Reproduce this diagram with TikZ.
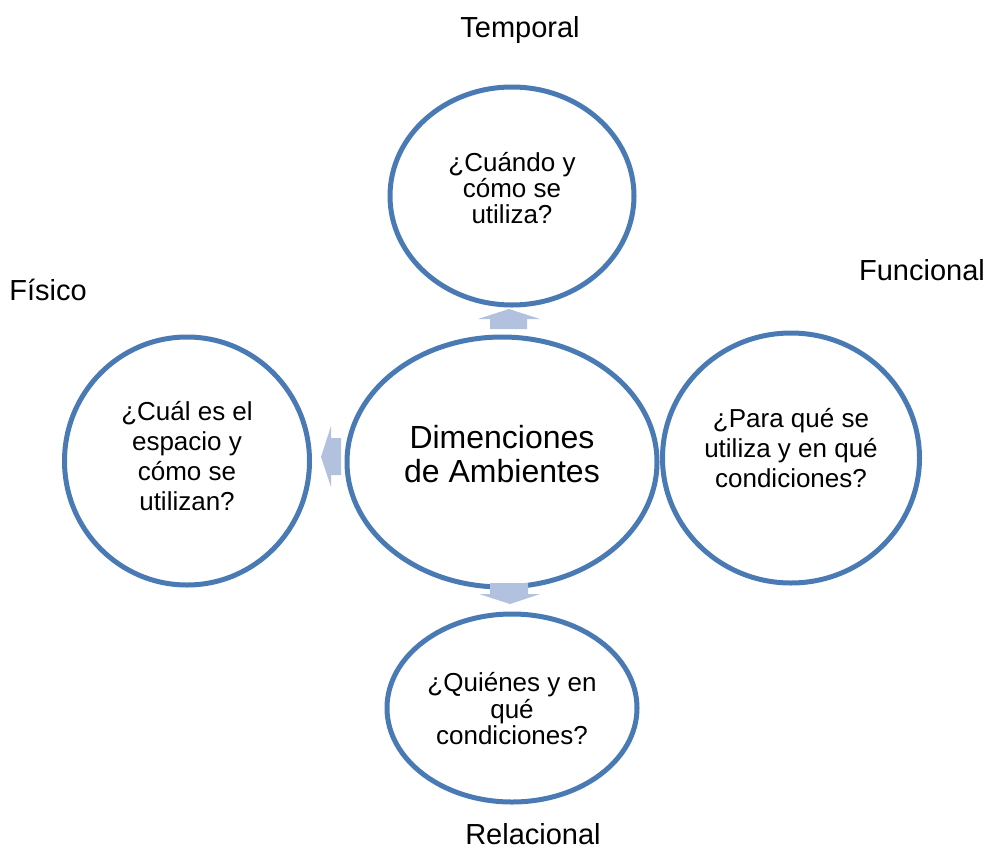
\documentclass[tikz,border=0pt]{standalone}
\usepackage{fontspec}
\setmainfont{Liberation Sans}
\usepackage{tikz}
\usetikzlibrary{shapes.geometric}
\definecolor{ringblue}{HTML}{4A7AB4}
\definecolor{arrowblue}{HTML}{B2C1DD}

\begin{document}
\begin{tikzpicture}[x=1pt,y=-1pt,
  ring/.style={ellipse,draw=ringblue,line width=5pt,inner sep=0pt},
  ringtext/.style={align=center,inner sep=0pt,font=\fontsize{26}{30}\selectfont},
  dimlabel/.style={font=\fontsize{29}{33}\selectfont},
  flecha/.style={fill=arrowblue}]
\useasboundingbox (0,0) rectangle (988,849);
% circulos
\node (centro)     at (502,462) [ring,minimum width=310pt,minimum height=250pt] {};
\node (temporal)   at (512,196) [ring,minimum width=244pt,minimum height=218pt] {};
\node (funcional)  at (791,458) [ring,minimum width=257pt,minimum height=250pt] {};
\node (fisico)     at (187,461) [ring,minimum width=245pt,minimum height=248pt] {};
\node (relacional) at (512,708) [ring,minimum width=250pt,minimum height=188pt] {};
% textos
\node (centrotxt) at ([yshift=8pt]centro.center) [ringtext,font=\fontsize{32}{34}\selectfont] {Dimenciones\\de Ambientes};
\node (temptxt) at ([yshift=8pt]temporal.center) [ringtext,font=\fontsize{26}{26}\selectfont] {¿Cuándo y\\cómo se\\utiliza?};
\node (functxt) at ([yshift=10pt]funcional.center) [ringtext] {¿Para qué se\\utiliza y en qué\\condiciones?};
\node (fistxt)  at ([yshift=5pt]fisico.center) [ringtext] {¿Cuál es el\\espacio y\\cómo se\\utilizan?};
\node (reltxt)  at ([yshift=-1pt]relacional.center) [ringtext,font=\fontsize{26}{26.5}\selectfont] {¿Quiénes y en\\qué\\condiciones?};
\node (lbltemp) at (520,30)  [dimlabel] {Temporal};
\node (lblfunc) at (922,270) [dimlabel] {Funcional};
\node (lblfis)  at (48,290)  [dimlabel] {Físico};
\node (lblrel)  at (533,834) [dimlabel] {Relacional};
% flechas de bloque
\fill [flecha] (490,329) -- (490,319) -- (478,319) -- (509,309) -- (540,319) -- (527,319) -- (527,329) -- cycle;
\fill [flecha] (341,438) -- (331,438) -- (331,426) -- (321,457) -- (331,487) -- (331,475) -- (341,475) -- cycle;
\fill [flecha] (490,583) -- (528,583) -- (528,594) -- (540,594) -- (510,604) -- (479,594) -- (490,594) -- cycle;
\end{tikzpicture}
\end{document}
